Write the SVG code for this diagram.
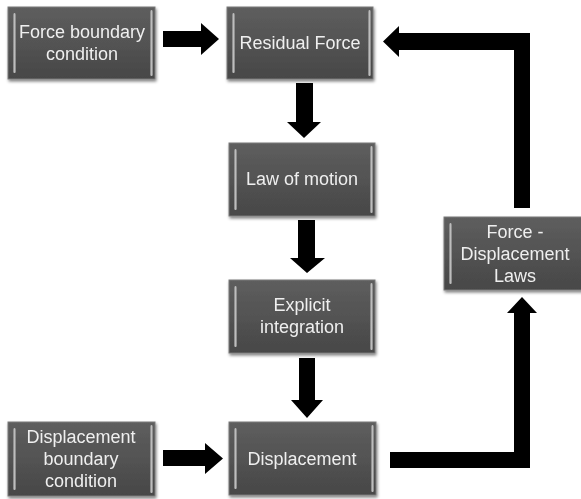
<svg xmlns="http://www.w3.org/2000/svg" width="581" height="499" viewBox="0 0 581 499">
<defs>
<linearGradient id="boxg" x1="0" y1="0" x2="0" y2="1">
<stop offset="0" stop-color="#5e5e5e"/>
<stop offset="0.5" stop-color="#535353"/>
<stop offset="1" stop-color="#474747"/>
</linearGradient>
<linearGradient id="hl" x1="0" y1="0" x2="1" y2="0">
<stop offset="0" stop-color="#7a7a7a"/>
<stop offset="0.5" stop-color="#bdbdbd"/>
<stop offset="1" stop-color="#7a7a7a"/>
</linearGradient>
<filter id="sh" x="-10%" y="-10%" width="125%" height="130%">
<feGaussianBlur in="SourceAlpha" stdDeviation="1.5"/>
<feOffset dx="1" dy="2" result="b"/>
<feComponentTransfer><feFuncA type="linear" slope="0.5"/></feComponentTransfer>
<feMerge><feMergeNode/><feMergeNode in="SourceGraphic"/></feMerge>
</filter>
</defs>
<style>
.box{fill:url(#boxg);stroke:#7a7a7a;stroke-width:1;}
.lh{fill:url(#hl);}
.rh{fill:url(#hl);}
.t{font-family:"Liberation Sans",Arial,sans-serif;font-size:18px;fill:#efefef;text-anchor:middle;}
.arr{fill:#000;}
</style>
<rect width="581" height="499" fill="#fff"/>
<g id="connectors">
<polygon class="arr" points="163,31 201,31 201,23 219,39 201,55 201,47 163,47"/>
<polygon class="arr" points="296,83 313,83 313,122 321,122 304,138 287,122 296,122"/>
<polygon class="arr" points="298,220 315,220 315,258 325,258 307,273 290,258 298,258"/>
<polygon class="arr" points="299,358 315,358 315,400 323,400 307,418 291,400 299,400"/>
<polygon class="arr" points="163,450 205,450 205,443 223,458.5 205,474 205,466 163,466"/>
<polygon class="arr" points="390,452 514,452 514,313 507,313 522,297 537,313 530,313 530,468 390,468"/>
<polygon class="arr" points="530,208 514,208 514,50 399,50 399,57 383,41.5 399,26 399,33 530,33"/>
</g>
<g id="force-boundary" filter="url(#sh)">
<rect class="box" x="8" y="7" width="147" height="72"/>
<rect class="lh" x="13" y="13" width="3" height="60" rx="1.5"/>
<rect class="rh" x="150" y="10" width="3" height="66" rx="1.5"/>
<text class="t" x="82" y="38">Force boundary</text>
<text class="t" x="82" y="60">condition</text>
</g>
<g id="residual-force" filter="url(#sh)">
<rect class="box" x="227" y="7" width="146" height="72"/>
<rect class="lh" x="232" y="13" width="3" height="60" rx="1.5"/>
<rect class="rh" x="368" y="10" width="3" height="66" rx="1.5"/>
<text class="t" x="300" y="49">Residual Force</text>
</g>
<g id="law-of-motion" filter="url(#sh)">
<rect class="box" x="229" y="143" width="146" height="73"/>
<rect class="lh" x="234" y="149" width="3" height="61" rx="1.5"/>
<rect class="rh" x="370" y="146" width="3" height="67" rx="1.5"/>
<text class="t" x="302" y="185">Law of motion</text>
</g>
<g id="explicit-integration" filter="url(#sh)">
<rect class="box" x="229" y="280" width="146" height="73"/>
<rect class="lh" x="234" y="286" width="3" height="61" rx="1.5"/>
<rect class="rh" x="370" y="283" width="3" height="67" rx="1.5"/>
<text class="t" x="302" y="311">Explicit</text>
<text class="t" x="302" y="333">integration</text>
</g>
<g id="displacement" filter="url(#sh)">
<rect class="box" x="229" y="422" width="147" height="73"/>
<rect class="lh" x="234" y="428" width="3" height="61" rx="1.5"/>
<rect class="rh" x="371" y="425" width="3" height="67" rx="1.5"/>
<text class="t" x="302" y="465">Displacement</text>
</g>
<g id="displacement-boundary" filter="url(#sh)">
<rect class="box" x="8" y="422" width="147" height="74"/>
<rect class="lh" x="13" y="428" width="3" height="62" rx="1.5"/>
<rect class="rh" x="150" y="425" width="3" height="68" rx="1.5"/>
<text class="t" x="81" y="443">Displacement</text>
<text class="t" x="81" y="465">boundary</text>
<text class="t" x="81" y="487">condition</text>
</g>
<g id="force-displacement-laws" filter="url(#sh)">
<rect class="box" x="444" y="217" width="146" height="73"/>
<rect class="lh" x="449" y="223" width="3" height="61" rx="1.5"/>
<text class="t" x="515" y="238">Force -</text>
<text class="t" x="515" y="260">Displacement</text>
<text class="t" x="515" y="282">Laws</text>
</g>
</svg>
